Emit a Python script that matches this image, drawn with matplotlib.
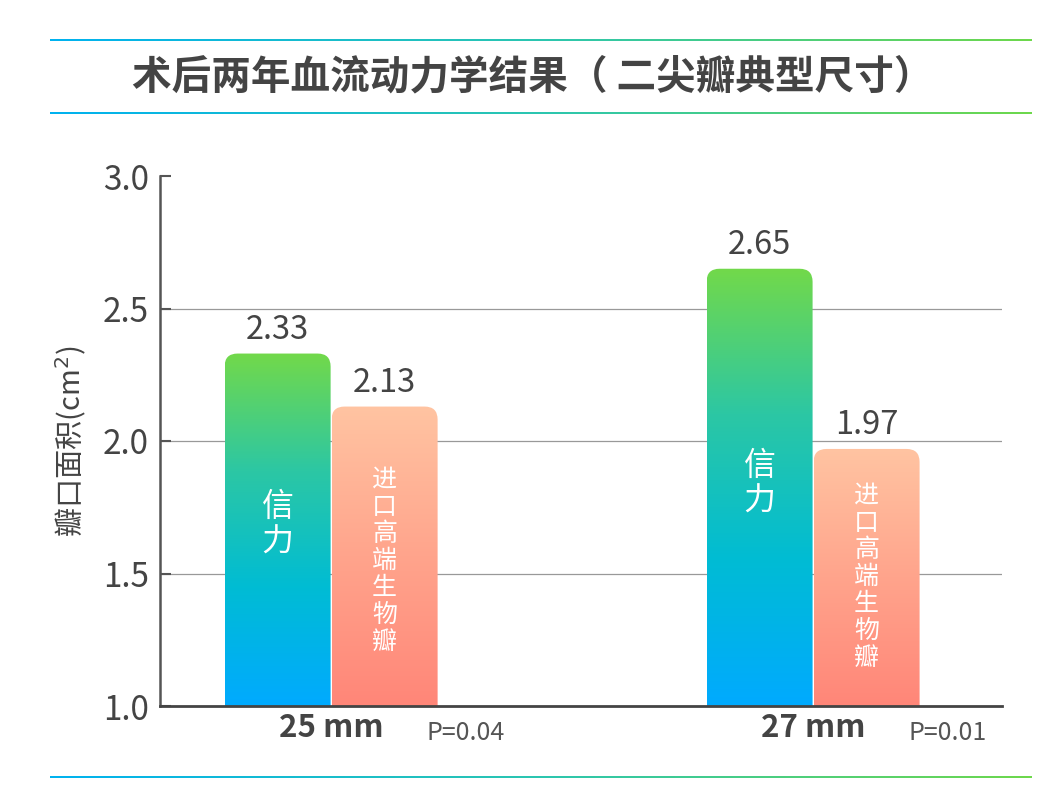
import numpy as np
import matplotlib.pyplot as plt
from matplotlib.colors import LinearSegmentedColormap
from matplotlib.patches import FancyBboxPatch

plt.rcParams['font.family'] = ['Noto Sans CJK SC', 'DejaVu Sans']

# data
sizes = ['25 mm', '27 mm']
p_values = ['P=0.04', 'P=0.01']
xinli = [2.33, 2.65]
imported = [2.13, 1.97]
series_names = ['信力', '进口高端生物瓣']
title = '术后两年血流动力学结果（ 二尖瓣典型尺寸）'
ylabel = '瓣口面积(cm$^2$)'

green_cmap = LinearSegmentedColormap.from_list('g', ['#00aaff', '#00bcd4', '#2cc7a4', '#72d94a'])
salmon_cmap = LinearSegmentedColormap.from_list('s', ['#ff8678', '#ffa48c', '#ffc4a2'])
line_cmap = LinearSegmentedColormap.from_list('l', ['#00b2f0', '#2cc6b0', '#6ed84c'])

fig = plt.figure(figsize=(10.6, 8), dpi=100)

# decorative gradient lines + title
bg = fig.add_axes([0, 0, 1, 1])
bg.set_xlim(0, 1060)
bg.set_ylim(800, 0)
bg.axis('off')
grad = np.linspace(0, 1, 256).reshape(1, -1)
for yy in [40, 113, 777]:
    bg.imshow(grad, cmap=line_cmap, aspect='auto', extent=[50, 1032, yy + 1, yy - 1])
bg.text(533, 77, title, ha='center', va='center', fontsize=28.5, color='#444444',
        fontweight='bold')

ax = fig.add_axes([160 / 1060, 94 / 800, 842 / 1060, 530 / 800])
x = np.arange(len(sizes))
w = 0.22
ax.set_xlim(-0.355, 1.392)
ax.set_ylim(1.0, 3.0)

# px per data unit, for rounded corners
xs = 842 / (1.392 + 0.355)
ys = 530 / 2.0
aspect = xs / ys
r = 13 / xs


def grad_bar(xc, h, cmap):
    left = xc - w / 2
    patch = FancyBboxPatch((left, 0.5), w, h - 0.5,
                           boxstyle=f'round,pad=0,rounding_size={r}',
                           mutation_aspect=aspect, fc='none', ec='none')
    ax.add_patch(patch)
    g = np.linspace(1, 0, 256).reshape(-1, 1)
    im = ax.imshow(g, cmap=cmap, aspect='auto', extent=[left, left + w, 1.0, h],
                   vmin=0, vmax=1, zorder=2)
    im.set_clip_path(patch)


bars1 = ax.bar(x - w / 2 - 0.001, xinli, w, bottom=0, color='none')
bars2 = ax.bar(x + w / 2 + 0.001, imported, w, bottom=0, color='none')
for b, v in zip(bars1, xinli):
    grad_bar(b.get_x() + w / 2, v, green_cmap)
    ax.text(b.get_x() + w / 2, v + 0.03, f'{v:.2f}', ha='center', va='bottom',
            fontsize=23.5, color='#444444', fontweight='light')
for b, v in zip(bars2, imported):
    grad_bar(b.get_x() + w / 2, v, salmon_cmap)
    ax.text(b.get_x() + w / 2, v + 0.03, f'{v:.2f}', ha='center', va='bottom',
            fontsize=23.5, color='#444444', fontweight='light')

# vertical labels inside bars
for b, ymid in zip(bars1, [1.683, 1.84]):
    ax.text(b.get_x() + w / 2, ymid, '\n'.join(series_names[0]), ha='center', va='center',
            fontsize=23, color='white', linespacing=1.15, zorder=3)
for b, ymid in zip(bars2, [1.547, 1.487]):
    ax.text(b.get_x() + w / 2, ymid, '\n'.join(series_names[1]), ha='center', va='center',
            fontsize=18, color='white', linespacing=1.05, zorder=3)

ax.set_yticks([1.0, 1.5, 2.0, 2.5, 3.0])
ax.set_yticklabels(['1.0', '1.5', '2.0', '2.5', '3.0'], fontsize=24, color='#444444',
                   fontweight='light')
ax.set_xticks(x)
ax.set_xticklabels(sizes, fontsize=22.5, color='#444444', fontweight='bold')
ax.tick_params(axis='x', length=0, pad=4)
ax.tick_params(axis='y', direction='in', length=8, width=1.5, color='#555555', pad=8)
for xi, p in zip(x, p_values):
    ax.text(xi + 0.28, 0.898, p, ha='center', va='center', fontsize=18, color='#555555',
            fontweight='light')
ax.set_ylabel(ylabel, fontsize=21, color='#444444', labelpad=10)

for yy in [1.5, 2.0, 2.5]:
    ax.axhline(yy, color='#999999', lw=0.9, zorder=1)
ax.spines['top'].set_visible(False)
ax.spines['right'].set_visible(False)
ax.spines['left'].set_color('#555555')
ax.spines['left'].set_linewidth(1.8)
ax.spines['bottom'].set_color('#444444')
ax.spines['bottom'].set_linewidth(2)
ax.spines['bottom'].set_zorder(5)

fig.savefig('out.png', dpi=100)
